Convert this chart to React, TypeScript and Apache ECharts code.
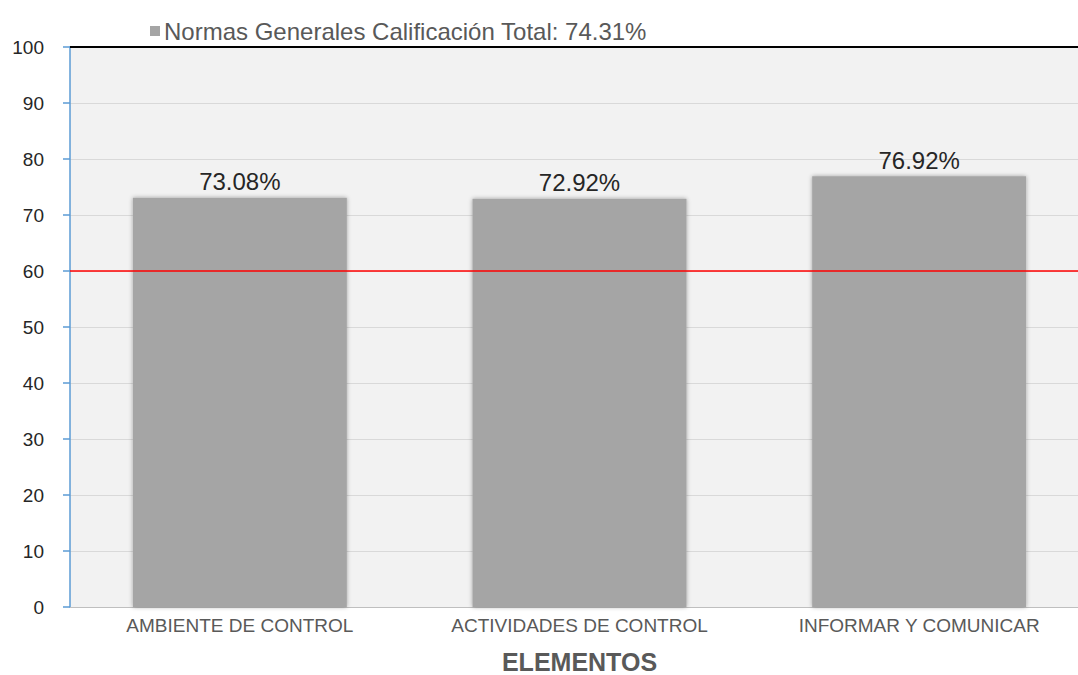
import React, { useEffect, useRef } from "react";
import * as echarts from "echarts";

const categories = ["AMBIENTE DE CONTROL", "ACTIVIDADES DE CONTROL", "INFORMAR Y COMUNICAR"];
const values = [73.08, 72.92, 76.92];
const seriesName = "Normas Generales Calificación Total: 74.31%";
const thresholdValue = 60;
const maxValue = 100;

export default function App() {
  const ref = useRef<HTMLDivElement>(null);
  useEffect(() => {
    if (!ref.current) return;
    const chart = echarts.init(ref.current, undefined, { renderer: "svg" });
    const font = "'Liberation Sans', Arial, sans-serif";
    chart.setOption({
      animation: false,
      textStyle: { fontFamily: font },
      legend: {
        left: 145,
        top: 14,
        icon: "rect",
        itemWidth: 10,
        itemHeight: 10,
        itemGap: 4,
        textStyle: { fontSize: 24, color: "#595959", fontFamily: font, padding: [0, 0, 0, -1] },
        data: [seriesName],
      },
      grid: {
        left: 70,
        right: 0,
        top: 47,
        bottom: 68,
        outerBoundsMode: "none",
        containLabel: false,
        show: true,
        backgroundColor: "#f2f2f2",
        borderWidth: 0,
      },
      xAxis: {
        type: "category",
        data: categories,
        name: "ELEMENTOS",
        nameLocation: "middle",
        nameGap: 42,
        nameTextStyle: { fontSize: 25, lineHeight: 25, fontWeight: "bold", color: "#595959", fontFamily: font },
        axisLine: { show: true, lineStyle: { color: "#bfbfbf", width: 1 } },
        axisTick: { show: false },
        axisLabel: { fontSize: 19, color: "#595959", margin: 9, fontFamily: font },
      },
      yAxis: {
        type: "value",
        min: 0,
        max: maxValue,
        interval: 10,
        axisLine: { show: true, lineStyle: { color: "#5b9bd5", width: 1.5 } },
        axisTick: { show: true, length: 7, lineStyle: { color: "#5b9bd5", width: 1.5 } },
        axisLabel: { fontSize: 19, color: "#262626", margin: 26, fontFamily: font },
        splitLine: { show: true, lineStyle: { color: "#d9d9d9", width: 1 } },
      },
      series: [
        {
          name: seriesName,
          type: "bar",
          data: values,
          barCategoryGap: "37%",
          itemStyle: {
            color: "#a5a5a5",
            shadowBlur: 4,
            shadowColor: "rgba(0,0,0,0.35)",
          },
          label: {
            show: true,
            position: "top",
            distance: 4,
            fontSize: 24,
            color: "#262626",
            fontFamily: font,
            formatter: (p: any) => p.value.toFixed(2) + "%",
          },
          markLine: {
            silent: true,
            symbol: "none",
            label: { show: false },
            data: [
              { yAxis: maxValue, lineStyle: { color: "#000000", width: 2, type: "solid" } },
              { yAxis: thresholdValue, lineStyle: { color: "#ff0000", width: 1.5, type: "solid" } },
            ],
          },
        },
      ],
    });
    return () => chart.dispose();
  }, []);
  return (
    <div style={{ position: "fixed", left: 0, top: 0, width: 1078, height: 675, overflow: "hidden", background: "#ffffff" }}>
      <div ref={ref} style={{ position: "absolute", left: 0, top: 0, width: 1089, height: 675 }} />
    </div>
  );
}
